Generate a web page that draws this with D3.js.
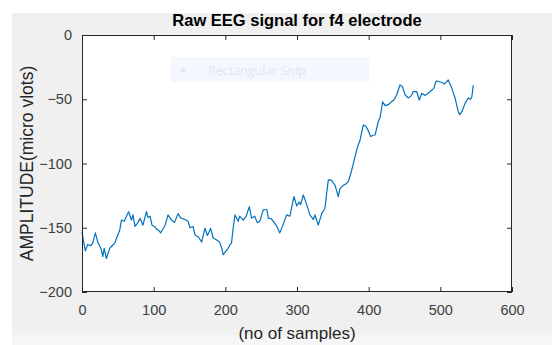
<!DOCTYPE html>
<html><head><meta charset="utf-8">
<script src="https://cdn.jsdelivr.net/npm/d3@7"></script>
<style>html,body{margin:0;padding:0;background:#fff;}svg{display:block;}</style>
</head><body>
<svg id="chart" width="552" height="345"></svg>
<script>
const titleText = "Raw EEG signal for f4 electrode";
const xLabel = "(no of samples)";
const yLabel = "AMPLITUDE(micro vlots)";
const xTicks = [0,100,200,300,400,500,600];
const yTicks = [-200,-150,-100,-50,0];
const samples = [0,2,4.6,8,12,15,18.6,22,27,29,31,34,38.6,42,45.6,49,52.6,55,59,62,65,69,71,74,78,81,85,90,92,95,97.7,101,104,107,109.8,113,116,120,125,129,134,138,141,145,148,150.7,155,157.7,162,167,171.6,175,179.5,183,188,192,195,197,201,204,206.5,208.6,211,213.5,218,220,225,229,233.5,236.6,241,244.6,248,253,258,260,264,267,271.5,276,281,285.5,290,295.8,299.6,303,305,308.8,313,318,323,325,329.7,334.5,339,341,343.7,348,353,357.6,360,364.6,368,371.6,376,381,384,388,392.5,396,399,402.8,406,409,413.4,416,419.5,423,428,432,436,439,443.7,447,451,455.3,460,462,467,470.6,474,479,486,491,494,497,502,506,511,516,520.5,525,527,530,534.6,539,542,544,546];
const amplitude = [-153,-160,-168,-163,-164,-162,-154,-161,-167,-172.5,-166,-174,-166,-164,-162,-157,-152,-144,-145,-141,-137.5,-144,-140,-149,-146,-142.7,-148,-137.5,-142,-141,-148,-149,-151,-152,-154,-151,-148,-140,-144,-146,-139,-142.5,-143,-144,-145,-150,-149,-155.6,-157,-161,-150.5,-156,-150.5,-158,-159.5,-161,-166,-171,-168,-166,-163.4,-162,-150,-140,-145,-141,-144,-141,-133.6,-142.5,-141,-146,-145,-136,-136,-142.5,-143,-145,-148.5,-154,-147,-140,-141,-125.8,-133,-130,-132,-124.5,-131,-140,-143.6,-140,-147.9,-139,-135,-125,-112.8,-113,-116.8,-125.8,-119.5,-117,-116,-114,-106,-94.7,-88,-81.7,-70,-71,-74,-79,-78,-77.8,-67.5,-64,-52,-55,-54,-52,-50,-46.7,-38.9,-40,-46.7,-49,-47,-44,-44,-50.6,-45.4,-47,-44,-41.5,-35.8,-36,-37,-38,-35,-41.5,-49,-59.7,-62,-59.7,-53,-49,-50,-48,-39];

const svg = d3.select("#chart");
const W = 552, H = 345;
const m = {left:82, right:512, top:35, bottom:292};

// figure background
svg.append("rect").attr("x",0).attr("y",0).attr("width",W).attr("height",H).attr("fill","#ffffff");
svg.append("rect").attr("x",12).attr("y",13).attr("width",W-12).attr("height",322).attr("fill","#f0f0f0");
svg.append("rect").attr("x",12).attr("y",335).attr("width",W-12).attr("height",10).attr("fill","#f6f6f6");

const x = d3.scaleLinear().domain([0,600]).range([m.left,m.right]);
const y = d3.scaleLinear().domain([-200,0]).range([m.bottom,m.top]);

// axes area
svg.append("rect").attr("x",m.left).attr("y",m.top).attr("width",m.right-m.left).attr("height",m.bottom-m.top).attr("fill","#ffffff");

// snip overlay
const snip = svg.append("g");
snip.append("rect").attr("x",171).attr("y",57).attr("width",198).attr("height",25).attr("fill","#f3f8fe");
snip.append("circle").attr("cx",183).attr("cy",70).attr("r",2.5).attr("fill","#e3e8ee");
snip.append("text").attr("x",208).attr("y",74.5).attr("font-family","'Open Sans', sans-serif").attr("font-size",12.5).attr("fill","#e2e6ec").text("Rectangular Snip");

// line
const line = d3.line().x((d,i)=>x(samples[i])).y(d=>y(d));
svg.append("path").datum(amplitude).attr("d",line).attr("fill","none").attr("stroke","#0072BD").attr("stroke-width",1.2).attr("stroke-linejoin","round");

const axColor = "#262626";
const tickFont = "'Liberation Sans', Arial, sans-serif";

function styleAxis(g){
  g.select(".domain").remove();
  g.selectAll(".tick line").attr("stroke",axColor).attr("stroke-width",1);
  g.selectAll(".tick text").attr("fill","#404040").attr("font-family",tickFont).attr("font-size",14.5);
}

const xAxis = svg.append("g").attr("transform",`translate(0,${m.bottom})`)
  .call(d3.axisBottom(x).tickValues(xTicks).tickFormat(d3.format("d")).tickSize(-5).tickPadding(13));
styleAxis(xAxis);
const xTop = svg.append("g").attr("transform",`translate(0,${m.top})`)
  .call(d3.axisTop(x).tickValues(xTicks).tickFormat("").tickSize(-5));
styleAxis(xTop);
const yAxis = svg.append("g").attr("transform",`translate(${m.left},0)`)
  .call(d3.axisLeft(y).tickValues(yTicks).tickFormat(d3.format("d")).tickSize(-5).tickPadding(10));
styleAxis(yAxis);
const yRight = svg.append("g").attr("transform",`translate(${m.right},0)`)
  .call(d3.axisRight(y).tickValues(yTicks).tickFormat("").tickSize(-5));
styleAxis(yRight);

// box
svg.append("rect").attr("x",m.left+0.5).attr("y",m.top+0.5).attr("width",m.right-m.left-1).attr("height",m.bottom-m.top-1)
  .attr("fill","none").attr("stroke",axColor).attr("stroke-width",1);

// title & labels
svg.append("text").attr("x",(m.left+m.right)/2).attr("y",26).attr("text-anchor","middle")
  .attr("font-family",tickFont).attr("font-weight","bold").attr("font-size",16.5).attr("fill","#000").text(titleText);
svg.append("text").attr("x",(m.left+m.right)/2).attr("y",339).attr("text-anchor","middle")
  .attr("font-family",tickFont).attr("font-size",17).attr("fill","#262626").text(xLabel);
svg.append("text").attr("transform",`translate(33,${(m.top+m.bottom)/2}) rotate(-90)`).attr("text-anchor","middle")
  .attr("font-family",tickFont).attr("font-size",17.5).attr("fill","#262626").text(yLabel);
</script>
</body></html>
